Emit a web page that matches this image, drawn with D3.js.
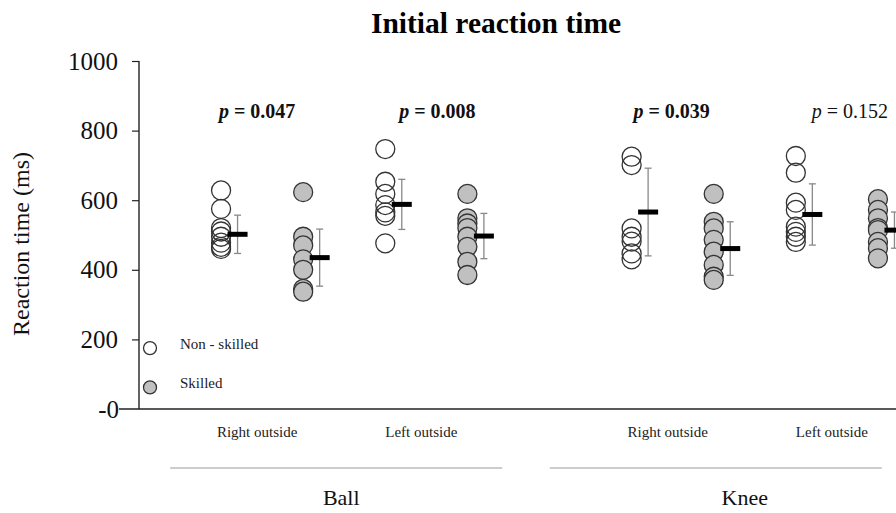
<!DOCTYPE html>
<html>
<head>
<meta charset="utf-8">
<script src="https://cdn.jsdelivr.net/npm/d3@7"></script>
<style>
  body { margin: 0; background: #fff; }
  svg { font-family: "Liberation Serif", "Times New Roman", serif; display: block; }
</style>
</head>
<body>
<svg id="chart" width="896" height="513"></svg>
<script>
// Categories
const groups = ["Ball", "Knee"];
const conditions = ["Right outside", "Left outside"];
const skills = ["Non - skilled", "Skilled"];

// Individual reaction times (ms)
const ballRightNon = [628, 575, 520, 510, 495, 478, 466, 460];
const ballRightSkilled = [623, 495, 470, 430, 400, 345, 337];
const ballLeftNon = [747, 653, 618, 586, 565, 555, 476];
const ballLeftSkilled = [618, 548, 533, 520, 495, 466, 423, 385];
const kneeRightNon = [725, 701, 519, 495, 481, 447, 430];
const kneeRightSkilled = [618, 538, 519, 486, 452, 414, 380, 371];
const kneeLeftNon = [727, 679, 593, 572, 524, 509, 495, 480];
const kneeLeftSkilled = [603, 572, 548, 520, 514, 480, 462, 433];

// Means and SDs per panel (Ball-R, Ball-L, Knee-R, Knee-L)
const meanNon = [502, 588, 566, 559];
const sdNon = [55, 72, 126, 88];
const meanSkilled = [435, 497, 461, 514];
const sdSkilled = [82, 65, 77, 52];

// p values per panel
const pValues = [0.047, 0.008, 0.039, 0.152];

// Y ticks
const yTicks = [0, 200, 400, 600, 800, 1000];

const panels = [
  { group: "Ball", cond: "Right outside", non: ballRightNon, skilled: ballRightSkilled },
  { group: "Ball", cond: "Left outside", non: ballLeftNon, skilled: ballLeftSkilled },
  { group: "Knee", cond: "Right outside", non: kneeRightNon, skilled: kneeRightSkilled },
  { group: "Knee", cond: "Left outside", non: kneeLeftNon, skilled: kneeLeftSkilled }
];
panels.forEach((p, i) => {
  p.meanNon = meanNon[i]; p.sdNon = sdNon[i];
  p.meanSkilled = meanSkilled[i]; p.sdSkilled = sdSkilled[i];
  p.p = pValues[i];
});

const svg = d3.select("#chart");
const axisX = 139;

// Scales
const y = d3.scaleLinear().domain([0, 1000]).range([409, 61]);
const xGroup = d3.scaleBand().domain(groups).range([180, 919]).paddingInner(0.2);
const xCond = d3.scaleBand().domain(conditions).range([0, xGroup.bandwidth()]);
const xSkill = d3.scaleBand().domain(skills).range([0, xCond.bandwidth()]);

const condCenter = p => xGroup(p.group) + xCond(p.cond) + xCond.bandwidth() / 2;
const skillCenter = (p, s) => xGroup(p.group) + xCond(p.cond) + xSkill(s) + xSkill.bandwidth() / 2;

// Title
svg.append("text")
  .attr("x", 496).attr("y", 33)
  .attr("text-anchor", "middle")
  .style("font-size", "29.5px").style("font-weight", "bold")
  .text("Initial reaction time");

// Y axis
const yAxis = d3.axisLeft(y).tickValues(yTicks).tickSize(7).tickPadding(14)
  .tickFormat(d => d === 0 ? "-0" : d);
const gy = svg.append("g").attr("transform", `translate(${axisX},0)`).call(yAxis);
gy.select(".domain").attr("stroke", "#222").attr("stroke-width", 1.4).attr("d", `M0,${y(1000)}V${y(0)}`);
gy.selectAll(".tick line").attr("stroke", "#222").attr("stroke-width", 1.2);
gy.selectAll(".tick text")
  .style("font-family", "Liberation Serif, serif").style("font-size", "25px")
  .attr("fill", "#111");
gy.selectAll(".tick").filter(d => d === 0).select("line").remove();
gy.selectAll(".tick").filter(d => d === 0).select("text").attr("x", -20);

svg.append("text")
  .attr("transform", `translate(29,244) rotate(-90)`)
  .attr("text-anchor", "middle")
  .style("font-size", "24px")
  .attr("fill", "#111")
  .text("Reaction time (ms)");

// X axis baseline
svg.append("line")
  .attr("x1", 119).attr("x2", 896)
  .attr("y1", y(0)).attr("y2", y(0))
  .attr("stroke", "#222").attr("stroke-width", 1.5);

// Condition labels
svg.selectAll(".cond-label")
  .data(panels)
  .join("text")
  .attr("class", "cond-label")
  .attr("x", p => condCenter(p) - 5)
  .attr("y", 437)
  .attr("text-anchor", "middle")
  .style("font-size", "15px")
  .attr("fill", "#222")
  .text(p => p.cond);

// Group lines and labels (hand placed offsets to match source layout)
const groupShift = { Ball: -8, Knee: -39 };
const groupLabelShift = { Ball: -3, Knee: -10 };
groups.forEach(g => {
  const c = xGroup(g) + xGroup.bandwidth() / 2;
  svg.append("line")
    .attr("x1", c + groupShift[g] - 166).attr("x2", c + groupShift[g] + 166)
    .attr("y1", 468).attr("y2", 468)
    .attr("stroke", "#999").attr("stroke-width", 1.2);
  svg.append("text")
    .attr("x", c + groupLabelShift[g]).attr("y", 505)
    .attr("text-anchor", "middle")
    .style("font-size", "22px")
    .attr("fill", "#111")
    .text(g);
});

// p values
const pShift = [-9, 7, -5, 9];
const ptext = svg.selectAll(".pval")
  .data(panels)
  .join("text")
  .attr("class", "pval")
  .attr("x", (p, i) => condCenter(p) + 4 + pShift[i])
  .attr("y", 118)
  .attr("text-anchor", "middle")
  .style("font-size", "20px")
  .style("font-weight", p => p.p < 0.05 ? "bold" : "normal")
  .attr("fill", "#111");
ptext.append("tspan").style("font-style", "italic").text("p");
ptext.append("tspan").text(p => " = " + p.p.toFixed(3));

// Points, error bars, means
const r = 9.5;
panels.forEach(p => {
  [["Non - skilled", p.non, p.meanNon, p.sdNon, "#fff"],
   ["Skilled", p.skilled, p.meanSkilled, p.sdSkilled, "#c0c0c0"]].forEach(([s, vals, m, sd, fill]) => {
    const cx = skillCenter(p, s);
    const g = svg.append("g");
    g.selectAll("circle")
      .data(vals.slice().sort((a, b) => b - a))
      .join("circle")
      .attr("cx", cx).attr("cy", d => y(d)).attr("r", r)
      .attr("fill", fill)
      .attr("fill-opacity", s === "Skilled" ? 1 : 0)
      .attr("stroke", "#333").attr("stroke-width", 1.3);

    const ex = cx + 16.5;
    g.append("line")
      .attr("x1", ex).attr("x2", ex)
      .attr("y1", y(m + sd)).attr("y2", y(m - sd))
      .attr("stroke", "#888").attr("stroke-width", 1.3);
    [m + sd, m - sd].forEach(v => {
      g.append("line")
        .attr("x1", ex - 3.5).attr("x2", ex + 3.5)
        .attr("y1", y(v)).attr("y2", y(v))
        .attr("stroke", "#888").attr("stroke-width", 1.3);
    });
    g.append("rect")
      .attr("x", ex - 10).attr("y", y(m) - 2.5)
      .attr("width", 20).attr("height", 5)
      .attr("fill", "#000");
  });
});

// Legend
const legend = [
  { label: "Non - skilled", fill: "#fff", value: 175 },
  { label: "Skilled", fill: "#c0c0c0", value: 62 }
];
legend.forEach(l => {
  svg.append("circle")
    .attr("cx", 150).attr("cy", y(l.value)).attr("r", 6.5)
    .attr("fill", l.fill).attr("stroke", "#333").attr("stroke-width", 1.3);
  svg.append("text")
    .attr("x", 180).attr("y", y(l.value) + 1)
    .style("font-size", "15px")
    .attr("fill", "#222")
    .text(l.label);
});
</script>
</body>
</html>
